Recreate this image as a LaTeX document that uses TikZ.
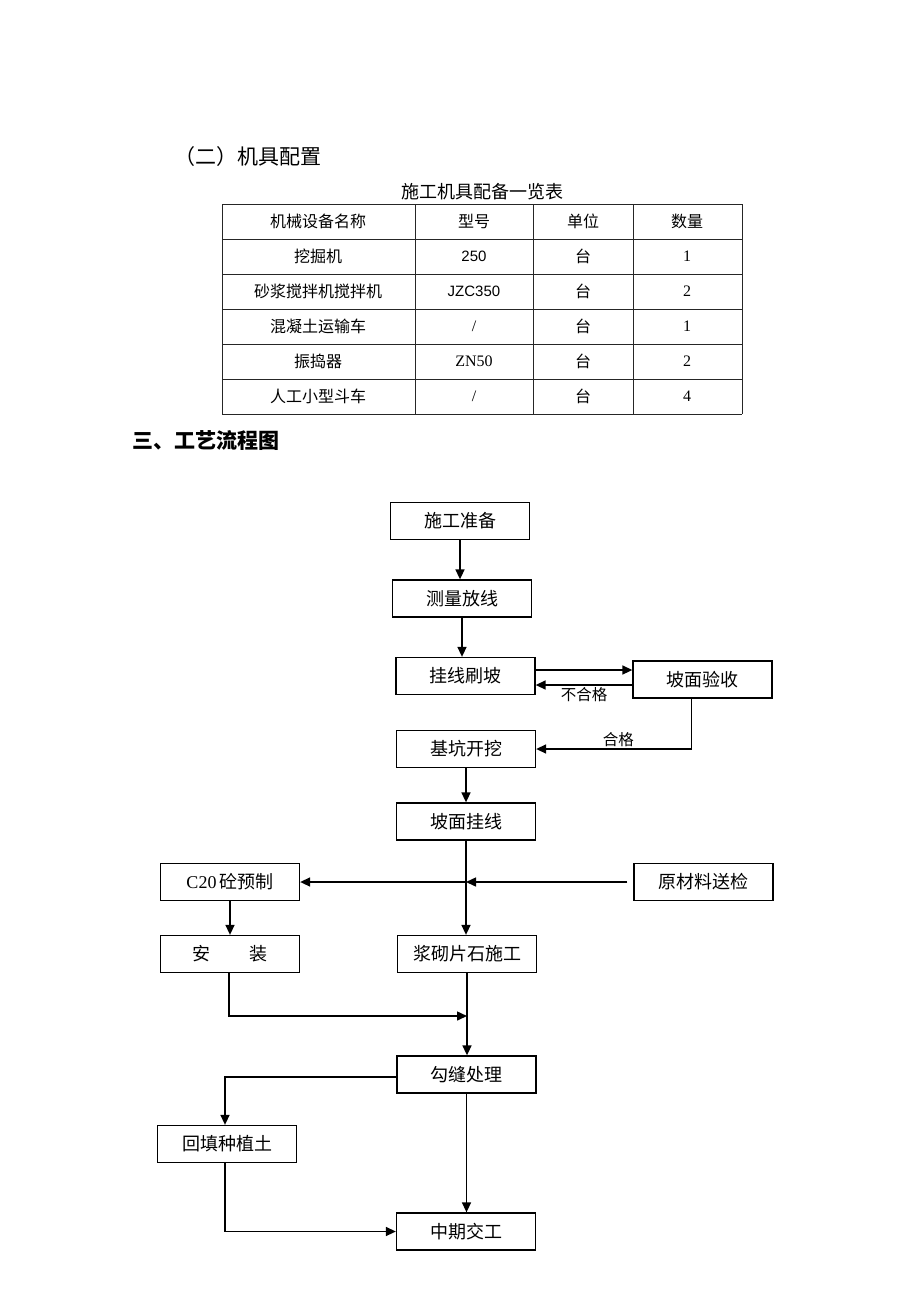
\documentclass[tikz,border=0pt]{standalone}
\usepackage{fontspec}
\setmainfont{Liberation Serif}
\newfontfamily\cjk{Noto Sans CJK SC}
\newfontfamily\arialf{Liberation Sans}
\usetikzlibrary{arrows.meta}
\tikzset{
  box/.style={draw, line width=1.3pt, minimum width=139pt, minimum height=37pt, inner sep=0pt,
    font=\cjk\fontsize{18}{20}\selectfont},
  arr/.style={-{Triangle[length=10pt,width=9pt]}, line width=1.5pt},
  cell/.style={inner sep=0pt, font=\cjk\fontsize{16}{18}\selectfont},
  lbl/.style={inner sep=2pt, font=\cjk\fontsize{15.5}{17}\selectfont},
  grid line/.style={line width=1pt, draw=black!85}
}
\begin{document}
\begin{tikzpicture}[x=1pt,y=-1pt]
\useasboundingbox (0,0) rectangle (920,1302);
% headings
\node[anchor=west, inner sep=0pt, font=\cjk\fontsize{21}{23}\selectfont] (h1) at (174,157) {（二）机具配置};
\node[inner sep=0pt, font=\cjk\fontsize{18}{20}\selectfont] (tt) at (482,192) {施工机具配备一览表};
\node[anchor=west, inner sep=0pt, font=\cjk\bfseries\fontsize{21}{23}\selectfont] (h2) at (132,440) {三、工艺流程图};
% table grid
\foreach \yy in {204,239,274,309,344,379,414} \draw[grid line] (222,\yy) -- (742,\yy);
\foreach \xx in {222,415,533,633,742} \draw[grid line] (\xx,204) -- (\xx,414);
% table text
\node[cell] (c11) at (318,221.5) {机械设备名称};
\node[cell] (c12) at (474,221.5) {型号};
\node[cell] (c13) at (583,221.5) {单位};
\node[cell] (c14) at (687,221.5) {数量};
\node[cell] (c21) at (318,256.5) {挖掘机};
\node[cell, font=\arialf\fontsize{15}{17}\selectfont] (c22) at (474,256.5) {250};
\node[cell] (c23) at (583,256.5) {台};
\node[cell, font=\rmfamily\fontsize{16}{18}\selectfont] (c24) at (687,256.5) {1};
\node[cell] (c31) at (318,291.5) {砂浆搅拌机搅拌机};
\node[cell, font=\arialf\fontsize{15}{17}\selectfont] (c32) at (474,291.5) {JZC350};
\node[cell] (c33) at (583,291.5) {台};
\node[cell, font=\rmfamily\fontsize{16}{18}\selectfont] (c34) at (687,291.5) {2};
\node[cell] (c41) at (318,326.5) {混凝土运输车};
\node[cell, font=\rmfamily\fontsize{16}{18}\selectfont] (c42) at (474,326.5) {/};
\node[cell] (c43) at (583,326.5) {台};
\node[cell, font=\rmfamily\fontsize{16}{18}\selectfont] (c44) at (687,326.5) {1};
\node[cell] (c51) at (318,361.5) {振捣器};
\node[cell, font=\rmfamily\fontsize{16}{18}\selectfont] (c52) at (474,361.5) {ZN50};
\node[cell] (c53) at (583,361.5) {台};
\node[cell, font=\rmfamily\fontsize{16}{18}\selectfont] (c54) at (687,361.5) {2};
\node[cell] (c61) at (318,396.5) {人工小型斗车};
\node[cell, font=\rmfamily\fontsize{16}{18}\selectfont] (c62) at (474,396.5) {/};
\node[cell] (c63) at (583,396.5) {台};
\node[cell, font=\rmfamily\fontsize{16}{18}\selectfont] (c64) at (687,396.5) {4};
% flowchart boxes
\node[box] (n1) at (460,521) {施工准备};
\node[box] (n2) at (462,598.5) {测量放线};
\node[box] (n3) at (465.5,676) {挂线刷坡};
\node[box] (n4) at (702.5,679.5) {坡面验收};
\node[box] (n5) at (466,749) {基坑开挖};
\node[box] (n6) at (466,821.5) {坡面挂线};
\node[box] (n7) at (230,882) {{\rmfamily C20}\,砼预制};
\node[box] (n8) at (703.5,882) {原材料送检};
\node[box] (n9) at (230,954) {安\hspace{2.2em}装};
\node[box] (n10) at (467,954) {浆砌片石施工};
\node[box] (n11) at (466.5,1074.5) {勾缝处理};
\node[box] (n12) at (227,1144) {回填种植土};
\node[box] (n13) at (466,1231.5) {中期交工};
% connectors
\draw[arr] (n1.south) -- (n1.south |- n2.north);
\draw[arr] (n2.south) -- (n2.south |- n3.north);
\draw[arr] (n3.east |- 0,670) -- (n4.west |- 0,670);
\draw[arr] (n4.west |- 0,685) -- (n3.east |- 0,685)
  node[lbl, midway, anchor=north] {不合格};
\draw[arr] ([xshift=-11pt]n4.south) |- (n5.east)
  node[lbl, pos=0.735, anchor=south] {合格};
\draw[arr] (n5.south) -- (n5.south |- n6.north);
\draw[arr] (n6.south) -- (n6.south |- n10.north);
\coordinate (m) at (n6.south |- n8.west);
\draw[arr, shorten <=6pt] (n8.west) -- (m);
\draw[arr] (m) -- (n7.east);
\draw[arr] (n7.south) -- (n7.south |- n9.north);
\coordinate (j) at (n10.south |- 0,1016);
\draw[arr] ([xshift=-1pt]n9.south) |- (j);
\draw[arr] (n10.south) -- (n10.south |- n11.north);
\draw[arr] (n11.west |- 0,1077) -| ([xshift=-2pt]n12.north);
\draw[arr] (n11.south) -- (n11.south |- n13.north);
\draw[arr] ([xshift=-2pt]n12.south) |- (n13.west);
\end{tikzpicture}
\end{document}
